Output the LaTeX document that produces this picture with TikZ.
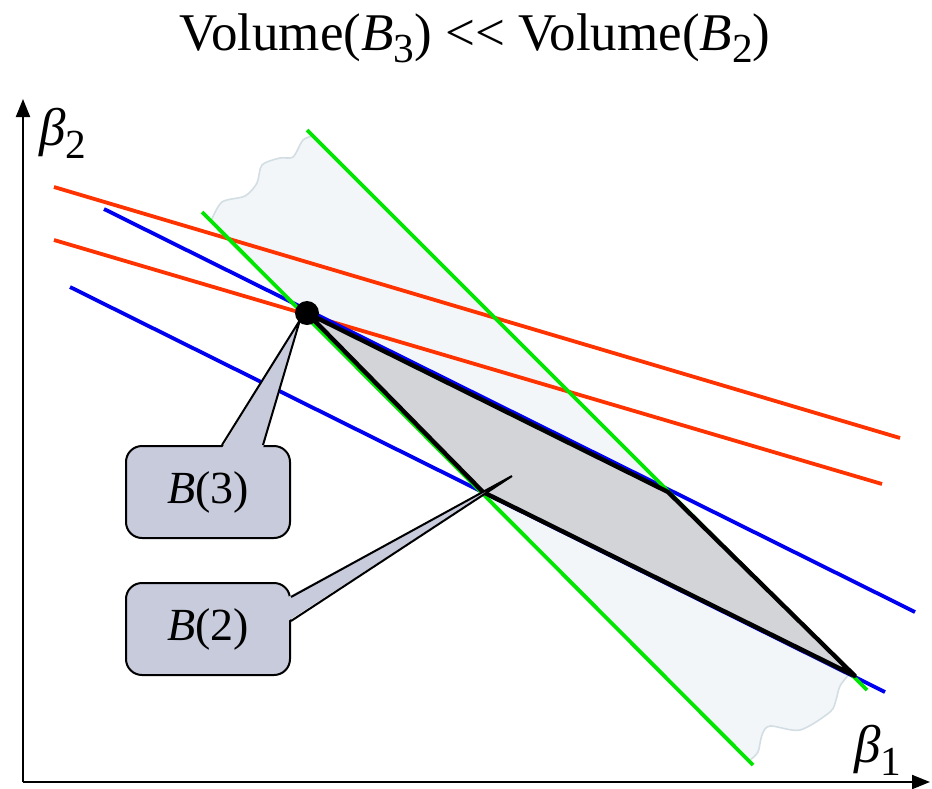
\documentclass[tikz,border=0pt]{standalone}
\usepackage{fontspec}
\setmainfont{Liberation Serif}
\usetikzlibrary{calc,arrows.meta}

\definecolor{bandfill}{HTML}{F2F6F8}
\definecolor{bandedge}{HTML}{D3DEE4}
\definecolor{boxfill}{HTML}{C8CBDB}
\definecolor{polyfill}{HTML}{D2D4D8}
\definecolor{redcut}{HTML}{FF3300}
\definecolor{greencut}{HTML}{00E600}
\definecolor{bluecut}{HTML}{0000F0}

\newcommand{\lowidx}[1]{\raisebox{-0.24em}{\scalebox{0.78}{#1}}}

\tikzset{
  axisline/.style={line width=1pt, -{Triangle[length=9pt,width=7pt]}},
  redln/.style={draw=redcut, line width=1.9pt},
  blueln/.style={draw=bluecut, line width=1.9pt},
  greenln/.style={draw=greencut, line width=1.9pt},
  calloutbox/.style={draw=black, fill=boxfill, line width=1pt, rounded corners=8pt,
    minimum width=82pt, minimum height=46pt, font=\fontsize{23}{26}\selectfont},
  biglabel/.style={font=\fontsize{26.5}{30}\selectfont}
}

\begin{document}
\begin{tikzpicture}[x=0.5pt,y=-0.5pt]
\useasboundingbox (0,0) rectangle (932,788);

%TITLE
\node[biglabel, anchor=base] (title) at (475,50) {Volume(\textit{B}\lowidx{3}) {<}{<} Volume(\textit{B}\lowidx{2})};

%AXES
\coordinate (O) at (23,782);
\coordinate (xend) at (930,782);
\coordinate (yend) at (23,99);
\draw[axisline] (O) -- (xend);
\draw[axisline] (O) -- (yend);
\node[biglabel] (b2lab) at (63,133) {\textit{β}\lowidx{2}};
\node[biglabel] (b1lab) at (878,750) {\textit{β}\lowidx{1}};

%BAND (between green cuts)
\fill[bandfill] plot[smooth] coordinates {(211,221) (222,202) (245,196) (257,183) (262,165) (280,158) (293,157) (303,140) (313,136)}
  -- plot[smooth] coordinates {(850,673) (840,686) (836,700) (830,712) (800,730) (770,726) (762,735) (758,752) (750,760)} -- cycle;
\draw[bandedge, line width=0.8pt] plot[smooth] coordinates {(211,221) (222,202) (245,196) (257,183) (262,165) (280,158) (293,157) (303,140) (313,136)};
\draw[bandedge, line width=0.8pt] plot[smooth] coordinates {(850,673) (840,686) (836,700) (830,712) (800,730) (770,726) (762,735) (758,752) (750,760)};

%%%%%%%%%%%%%%%%%%%%
%cuts
\draw[redln] (54,187) -- (900,438);
\draw[redln] (54,240) -- (882,484);
\draw[blueln] (104,209) -- (915,612);
\draw[blueln] (70,287) -- (885,692);
\draw[greenln] (202,212) -- (753,765);
\draw[greenln] (307,130) -- (867,690);

%%%%%%%%%%%%%%%%%%%%
%B(2) region
\coordinate (P3) at (307,313);
\coordinate (Q) at (668,492);
\coordinate (R) at (855,676);
\coordinate (S) at (483,492);
\filldraw[fill=polyfill, draw=black, line width=2.2pt, line join=round] (P3) -- (Q) -- (R) -- (S) -- cycle;
\fill[black] (P3) circle[radius=6pt];

%%%%%%%%%%%%%%%%%%%%
%callouts
\node[calloutbox] (box3) at (208,492) {\textit{B}(3)};
\node[calloutbox] (box2) at (208,629) {\textit{B}(2)};
\coordinate (tip3) at (300,320);
\coordinate (tip2) at (512,476);
\fill[boxfill] ($(box3.north)+(14,3)$) -- (tip3) -- ($(box3.north)+(55,3)$) -- cycle;
\draw[line width=1pt] ($(box3.north)+(14,0)$) -- (tip3) -- ($(box3.north)+(55,0)$);
\fill[boxfill] ($(box2.east)+(-3,-32)$) -- (tip2) -- ($(box2.east)+(-3,-8)$) -- cycle;
\draw[line width=1pt] ($(box2.east)+(0,-32)$) -- (tip2) -- ($(box2.east)+(0,-8)$);
\end{tikzpicture}
\end{document}
